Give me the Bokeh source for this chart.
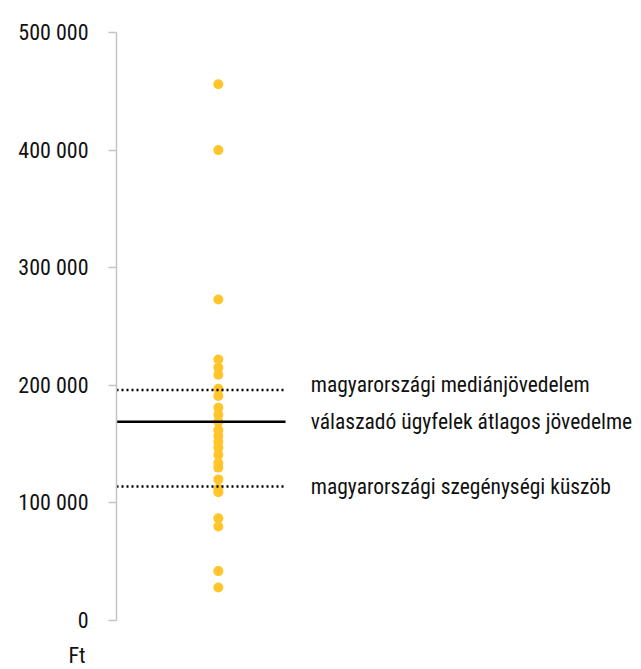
from bokeh.plotting import figure
from bokeh.models import Range1d, FixedTicker, Title, ColumnDataSource
from bokeh.core.properties import value
from bokeh.embed import file_html
from bokeh.resources import INLINE

# data
incomes = [456000, 400000, 273000, 222000, 215000, 209000, 197000, 191000,
           181000, 175000, 169000, 162000, 157000, 152000, 147000, 141000,
           134000, 130000, 120000, 112000, 109000, 87000, 80000, 42000, 28000]
ref_names = ["magyarországi mediánjövedelem",
             "válaszadó ügyfelek átlagos jövedelme",
             "magyarországi szegénységi küszöb"]
ref_values = [196000, 169000, 114000]
ref_dashes = ["dotted", "solid", "dotted"]
label_values = [201000, 169000, 114000]
tick_values = [0, 100000, 200000, 300000, 400000, 500000]
tick_labels = ["0", "100 000", "200 000", "300 000", "400 000", "500 000"]
unit_label = "Ft"

FONT = "'Roboto Condensed', 'DejaVu Sans Condensed', 'Liberation Sans Narrow', 'Noto Sans'"

p = figure(width=641, height=669, output_backend="svg", toolbar_location=None,
           x_range=Range1d(0, 1), y_range=Range1d(0, 500000),
           min_border_left=116, min_border_right=0, min_border_top=32,
           min_border_bottom=49)
p.outline_line_color = None
p.xgrid.visible = False
p.ygrid.visible = False
p.xaxis.visible = False
p.background_fill_color = None
p.border_fill_color = None

ya = p.yaxis[0]
ya.ticker = FixedTicker(ticks=tick_values)
ya.major_label_overrides = {v: l for v, l in zip(tick_values, tick_labels)}
ya.axis_line_color = "#C4C4C4"
ya.axis_line_width = 1.5
ya.major_tick_line_color = "#C4C4C4"
ya.major_tick_line_width = 1.5
ya.major_tick_out = 8
ya.major_tick_in = 0
ya.minor_tick_line_color = None
ya.major_label_standoff = 20
ya.major_label_text_font = FONT
ya.major_label_text_font_size = "22px"
ya.major_label_text_color = "#111111"

src = ColumnDataSource(dict(x=[0.194] * len(incomes), y=incomes))
p.scatter("x", "y", source=src, size=10, color="#FFC52A", line_color=None)

for v, d in zip(ref_values, ref_dashes):
    if d == "solid":
        p.segment(x0=[0], x1=[0.322], y0=[v], y1=[v], line_color="black",
                  line_width=2.5)
    else:
        p.segment(x0=[0], x1=[0.322], y0=[v], y1=[v], line_color="black",
                  line_width=2.5, line_dash="2 3")

tsrc = ColumnDataSource(dict(x=[0.37] * 3, y=label_values, t=ref_names))
p.text("x", "y", text="t", source=tsrc, text_font=value(FONT),
       text_font_size="21.5px", text_baseline="middle", text_align="left",
       text_color="#111111")

# spacer title (blank) to push the unit label down inside the bottom border
p.add_layout(Title(text=" ", align="left", standoff=0, text_font=FONT,
                   text_font_size="15px"), "below")
p.add_layout(Title(text=unit_label, align="left", offset=-48, standoff=0,
                   text_font=FONT, text_font_size="22px",
                   text_font_style="normal", text_color="#111111"), "below")

open("out.html", "w").write(file_html(p, INLINE))
